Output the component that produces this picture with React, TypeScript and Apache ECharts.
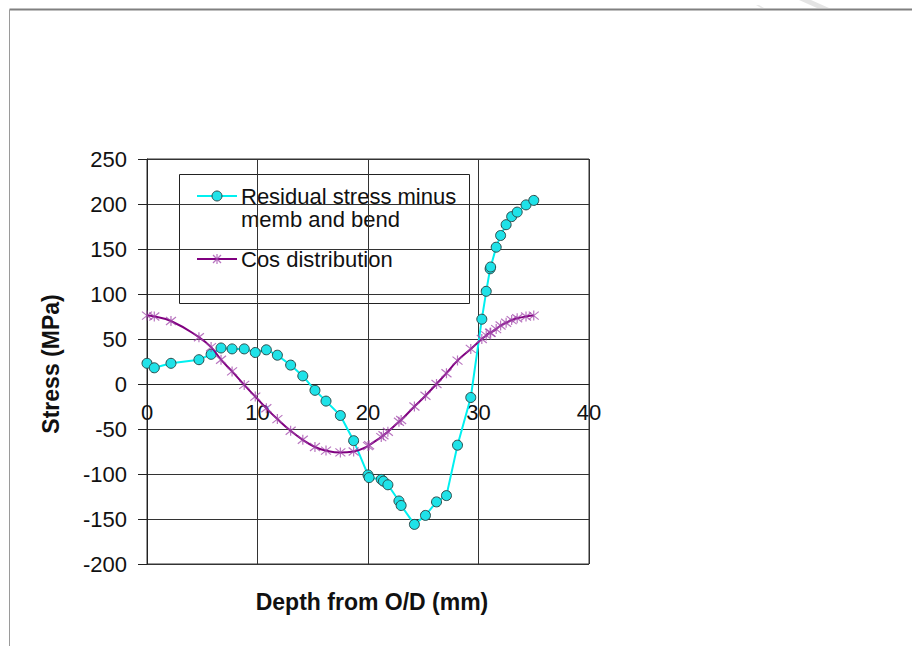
import React, { useEffect, useRef } from "react";
import * as echarts from "echarts";

// Depth positions (mm) of the measurement points
const depth = [
  0, 0.66, 2.17, 4.7, 5.8, 6.7, 7.7, 8.8, 9.8, 10.8, 11.8, 13.0, 14.1, 15.2, 16.2, 17.5,
  18.7, 20.0, 20.1, 21.2, 21.4, 21.8, 22.8, 23.0, 24.2, 25.2, 26.2, 27.1, 28.1, 29.3,
  30.3, 30.7, 31.05, 31.1, 31.6, 32.0, 32.5, 33.0, 33.5, 34.3, 35.0,
];

// Residual stress minus membrane and bending components (MPa)
const residual = [
  23, 18, 23, 27, 33, 40, 39, 39, 35, 38, 32, 21, 9, -7, -19, -35,
  -63, -101, -104, -106, -108, -112, -130, -135, -156, -146, -131, -124, -68, -15,
  72, 103, 128, 130, 152, 165, 177, 186, 191, 199, 204,
];

// Cosine distribution at the same depths (MPa)
const cosDist = [
  76, 75, 70, 52, 41, 27, 14, -1, -14, -27, -39, -52, -62, -70, -74, -76,
  -75, -69, -68, -59, -57, -53, -42, -40, -25, -13, 0, 12, 26, 39,
  50, 54, 57, 57, 61, 65, 68, 71, 73, 75, 76,
];

const xTicks = { min: 0, max: 40, interval: 10 };
const yTicks = { min: -200, max: 250, interval: 50 };

const seriesNames = ["Residual stress minus\nmemb and bend", "Cos distribution"];

const FONT = "'Liberation Sans', Arial, sans-serif";
const CYAN_LINE = "#00F0F0";
const CYAN_FILL = "#1FE2E8";
const PURPLE = "#800080";
const STAR_COLOR = "rgba(160, 70, 170, 0.75)";
const STAR_PATH = "path://M5,0L5,10M1,1L9,9M9,1L1,9";

// plot rectangle in page pixels
const PLOT = { left: 147, top: 159, width: 442, height: 405 };
// shift that brings the x axis up to the y = 0 line
const xAxisShift = -(PLOT.height * (0 - yTicks.min)) / (yTicks.max - yTicks.min);

function starMarker(cx: number, cy: number, r: number) {
  const d = r * 0.8;
  const style = { stroke: STAR_COLOR, lineWidth: 1.2 };
  return {
    type: "group",
    children: [
      { type: "line", shape: { x1: cx, y1: cy - r, x2: cx, y2: cy + r }, style },
      { type: "line", shape: { x1: cx - d, y1: cy - d, x2: cx + d, y2: cy + d }, style },
      { type: "line", shape: { x1: cx + d, y1: cy - d, x2: cx - d, y2: cy + d }, style },
    ],
  };
}

export default function App() {
  const ref = useRef<HTMLDivElement>(null);

  useEffect(() => {
    if (!ref.current) return;
    const chart = echarts.init(ref.current, undefined, { renderer: "svg" });

    const legendLines = seriesNames[0].split("\n");

    chart.setOption({
      animation: false,
      backgroundColor: "#ffffff",
      grid: {
        ...PLOT,
        show: true,
        borderColor: "#333",
        borderWidth: 1,
        backgroundColor: "transparent",
      },
      xAxis: {
        type: "value",
        position: "bottom",
        offset: xAxisShift,
        min: xTicks.min,
        max: xTicks.max,
        interval: xTicks.interval,
        axisLine: { show: true, onZero: false, lineStyle: { color: "#222", width: 1 } },
        axisTick: { show: false },
        axisLabel: {
          color: "#111",
          fontFamily: FONT,
          fontSize: 22,
          margin: 17,
        },
        splitLine: { show: true, lineStyle: { color: "#333", width: 1 } },
      },
      yAxis: {
        type: "value",
        min: yTicks.min,
        max: yTicks.max,
        interval: yTicks.interval,
        axisLine: { show: true, onZero: false, lineStyle: { color: "#222", width: 1 } },
        axisTick: { show: true, inside: false, length: 9, lineStyle: { color: "#222" } },
        axisLabel: {
          color: "#111",
          fontFamily: FONT,
          fontSize: 22,
          margin: 20,
        },
        splitLine: { show: true, lineStyle: { color: "#333", width: 1 } },
      },
      series: [
        {
          name: seriesNames[0],
          type: "line",
          data: depth.map((d, i) => [d, residual[i]]),
          smooth: false,
          symbol: "circle",
          symbolSize: 10,
          lineStyle: { color: CYAN_LINE, width: 2 },
          itemStyle: { color: CYAN_FILL, borderColor: "#2b4a4a", borderWidth: 1 },
          z: 2,
        },
        {
          name: seriesNames[1],
          type: "line",
          data: depth.map((d, i) => [d, cosDist[i]]),
          smooth: true,
          symbol: STAR_PATH,
          symbolSize: 10,
          lineStyle: { color: PURPLE, width: 2 },
          itemStyle: { color: "transparent", borderColor: STAR_COLOR, borderWidth: 1.2 },
          z: 3,
        },
      ],
      graphic: [
        // page frame
        { type: "line", shape: { x1: 9.5, y1: 9.5, x2: 912, y2: 9.5 }, style: { stroke: "#808080", lineWidth: 2 } },
        { type: "line", shape: { x1: 9.5, y1: 9.5, x2: 9.5, y2: 646 }, style: { stroke: "#9a9a9a", lineWidth: 1 } },
        { type: "polygon", shape: { points: [[799, 0], [811, 0], [829, 8], [817, 8]] }, style: { fill: "#e4e4e4" } },
        { type: "polygon", shape: { points: [[756, 5], [759, 5], [764, 8], [761, 8]] }, style: { fill: "#e8e8e8" } },
        // axis titles
        {
          type: "text",
          x: 372,
          y: 602,
          style: {
            text: "Depth from O/D (mm)",
            fontFamily: FONT,
            fontSize: 23,
            fontWeight: "bold",
            fill: "#111",
            align: "center",
            verticalAlign: "middle",
          },
        },
        {
          type: "text",
          x: 51,
          y: 364,
          rotation: Math.PI / 2,
          style: {
            text: "Stress (MPa)",
            fontFamily: FONT,
            fontSize: 23,
            fontWeight: "bold",
            fill: "#111",
            align: "center",
            verticalAlign: "middle",
          },
        },
        // legend
        {
          type: "group",
          z: 100,
          children: [
            {
              type: "rect",
              shape: { x: 179.5, y: 174.5, width: 290, height: 129 },
              style: { fill: "#ffffff", stroke: "#222", lineWidth: 1 },
            },
            { type: "line", shape: { x1: 197, y1: 196, x2: 237, y2: 196 }, style: { stroke: CYAN_LINE, lineWidth: 2 } },
            {
              type: "circle",
              shape: { cx: 217, cy: 196, r: 5 },
              style: { fill: CYAN_FILL, stroke: "#2b4a4a", lineWidth: 1 },
            },
            {
              type: "text",
              x: 241,
              y: 196,
              style: { text: legendLines[0], fontFamily: FONT, fontSize: 22, fill: "#111", verticalAlign: "middle" },
            },
            {
              type: "text",
              x: 241,
              y: 219,
              style: { text: legendLines[1], fontFamily: FONT, fontSize: 22, fill: "#111", verticalAlign: "middle" },
            },
            { type: "line", shape: { x1: 197, y1: 259, x2: 237, y2: 259 }, style: { stroke: PURPLE, lineWidth: 2 } },
            starMarker(217, 259, 5),
            {
              type: "text",
              x: 241,
              y: 259,
              style: { text: seriesNames[1], fontFamily: FONT, fontSize: 22, fill: "#111", verticalAlign: "middle" },
            },
          ],
        },
      ],
    });

    return () => chart.dispose();
  }, []);

  return (
    <div
      ref={ref}
      style={{ position: "fixed", left: 0, top: 0, width: 912, height: 646, background: "#fff" }}
    />
  );
}
